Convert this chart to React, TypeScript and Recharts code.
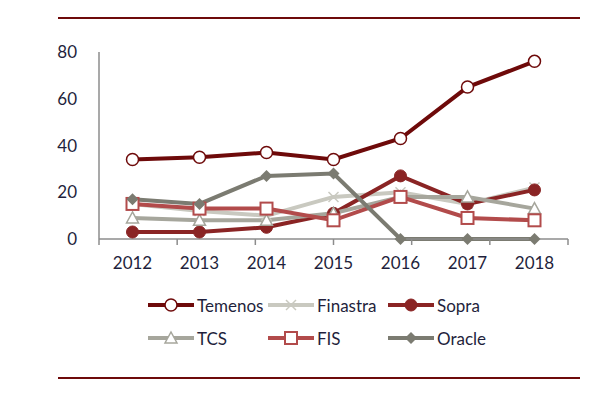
import React from 'react';
import { LineChart, Line, XAxis, YAxis, Legend } from 'recharts';

const years = ['2012', '2013', '2014', '2015', '2016', '2017', '2018'];
const temenos = [34, 35, 37, 34, 43, 65, 76];
const finastra = [15, 12, 10, 18, 20, 15, 22];
const sopra = [3, 3, 5, 11, 27, 15, 21];
const tcs = [9, 8, 8, 11, 18, 18, 13];
const fis = [15, 13, 13, 8, 18, 9, 8];
const oracle = [17, 15, 27, 28, 0, 0, 0];
const yTicks = [0, 20, 40, 60, 80];
const boundaryTicks = [0, 1, 2, 3, 4, 5, 6, 7];

const data = years.map((y, i) => ({
  year: y,
  Temenos: temenos[i],
  Finastra: finastra[i],
  Sopra: sopra[i],
  TCS: tcs[i],
  FIS: fis[i],
  Oracle: oracle[i],
}));

type Kind = 'circleOpen' | 'x' | 'circle' | 'triangle' | 'square' | 'diamond';

const series: { key: string; color: string; kind: Kind }[] = [
  { key: 'Temenos', color: '#6E0A0A', kind: 'circleOpen' },
  { key: 'Finastra', color: '#C9C9C0', kind: 'x' },
  { key: 'Sopra', color: '#8A2424', kind: 'circle' },
  { key: 'TCS', color: '#A6A69C', kind: 'triangle' },
  { key: 'FIS', color: '#B24B4B', kind: 'square' },
  { key: 'Oracle', color: '#7B7B71', kind: 'diamond' },
];

const marker = (kind: Kind, color: string, cx: number, cy: number, k?: string) => {
  switch (kind) {
    case 'circleOpen':
      return <circle key={k} cx={cx} cy={cy} r={6} fill="#fff" stroke={color} strokeWidth={1.5} />;
    case 'circle':
      return <circle key={k} cx={cx} cy={cy} r={6} fill={color} stroke={color} />;
    case 'square':
      return <rect key={k} x={cx - 6} y={cy - 6} width={12} height={12} fill="#fff" stroke={color} strokeWidth={2} />;
    case 'triangle':
      return (
        <polygon key={k} points={`${cx},${cy - 6} ${cx + 6},${cy + 5} ${cx - 6},${cy + 5}`} fill="#fff" stroke={color} strokeWidth={1.5} />
      );
    case 'diamond':
      return <polygon key={k} points={`${cx},${cy - 6} ${cx + 6},${cy} ${cx},${cy + 6} ${cx - 6},${cy}`} fill={color} />;
    case 'x':
      return (
        <g key={k} stroke={color} strokeWidth={1.5}>
          <line x1={cx - 5} y1={cy - 5} x2={cx + 5} y2={cy + 5} />
          <line x1={cx - 5} y1={cy + 5} x2={cx + 5} y2={cy - 5} />
        </g>
      );
  }
  return null;
};

const font = 'Lato, "Open Sans", sans-serif';
const textColor = '#1F1F3C';

const LegendContent = () => {
  return (
    <div style={{ display: 'flex', flexWrap: 'wrap', width: 360, rowGap: 13 }}>
      {series.map((s) => (
        <div key={s.key} style={{ width: 120, height: 20, display: 'flex', alignItems: 'center' }}>
          <svg width={48} height={20}>
            <line x1={1} y1={10} x2={47} y2={10} stroke={s.color} strokeWidth={4} />
            {marker(s.kind, s.color, 24, 10)}
          </svg>
          <span style={{ fontFamily: font, fontSize: 17, color: textColor, marginLeft: 2 }}>{s.key}</span>
        </div>
      ))}
    </div>
  );
};

export default function App() {
  return (
    <div style={{ position: 'absolute', left: 0, top: 0, width: 598, height: 397, background: '#fff' }}>
      <div style={{ position: 'absolute', left: 58, top: 17, width: 522, height: 2, background: '#6E0A0A' }} />
      <div style={{ position: 'absolute', left: 58, top: 377, width: 522, height: 2, background: '#6E0A0A' }} />
      <div style={{ position: 'absolute', left: 0, top: 0 }}>
        <LineChart width={598} height={397} data={data} margin={{ top: 52, right: 30, bottom: 128, left: 59 }}>
          <XAxis
            type="number"
            domain={[0, 7]}
            ticks={boundaryTicks}
            tick={() => <g />}
            stroke="#8C8C8C"
            strokeWidth={1.5}
            tickSize={6}
            height={2}
          />
          <XAxis
            xAxisId="main"
            dataKey="year"
            axisLine={false}
            tickLine={false}
            tickMargin={10}
            padding={{ left: 33.5, right: 33.5 }}
            tick={{ fill: textColor, fontSize: 17, fontFamily: font }}
            height={28}
          />
          <YAxis
            domain={[0, 80]}
            ticks={yTicks}
            width={40}
            stroke="#8C8C8C"
            strokeWidth={1.5}
            tickLine={false}
            tickMargin={16}
            tick={{ fill: textColor, fontSize: 17, fontFamily: font }}
          />
          {series.map((s) => (
            <Line
              key={s.key}
              xAxisId="main"
              dataKey={s.key}
              stroke={s.color}
              strokeWidth={4}
              isAnimationActive={false}
              dot={(p: any) => marker(s.kind, s.color, p.cx, p.cy, `${s.key}-${p.index}`)}
              activeDot={false}
            />
          ))}
          <Legend
            layout="horizontal"
            verticalAlign="middle"
            align="center"
            content={LegendContent}
            wrapperStyle={{ position: 'absolute', left: 147, top: 295, width: 360 }}
          />
        </LineChart>
      </div>
    </div>
  );
}
